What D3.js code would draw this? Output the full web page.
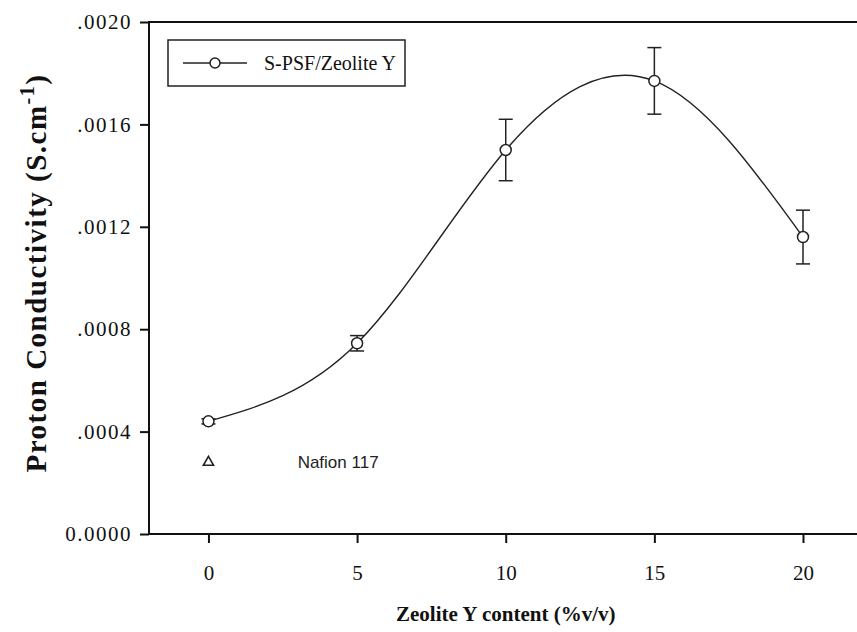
<!DOCTYPE html>
<meta charset="utf-8">
<style>
	body { margin: 0; background: #fff; }
	svg { display: block; font-family: "Liberation Serif", "Times New Roman", serif; }
</style>
<body>
<script src="https://cdn.jsdelivr.net/npm/d3@7"></script>
<script>

	// Zeolite content (%v/v) and measured conductivity
	var zeolite = [0, 5, 10, 15, 20];
	var conductivity = [0.00044, 0.000745, 0.0015, 0.00177, 0.00116];
	var errors = [0.00001, 0.00003, 0.00012, 0.00013, 0.000105];

	// Nafion 117 reference point
	var nafionX = [0];
	var nafionY = [0.00028];

	var xTicks = [0, 5, 10, 15, 20];
	var yTicks = [0, 0.0004, 0.0008, 0.0012, 0.0016, 0.0020];

	var width = 857, height = 632;
	var plotLeft = 149, plotTop = 22, plotBottom = 534;

	var data = zeolite.map(function(d, i) {
		return { x: d, y: conductivity[i], e: errors[i] };
	});

	var svg = d3.select("body")
		.append("svg")
		.attr("width", width)
		.attr("height", height);

	// x runs off the right edge of the picture, as in the scan
	var xScale = d3.scaleLinear()
		.domain([-2, 20])
		.range([plotLeft, 803]);
	var yScale = d3.scaleLinear()
		.domain([0, 0.0020])
		.range([plotBottom, plotTop]);

	// y axis
	svg.append("g")
		.attr("transform", "translate(" + plotLeft + ",0)")
		.call(d3.axisLeft(yScale)
			.tickValues(yTicks)
			.tickSize(9)
			.tickPadding(8)
			.tickFormat(function(d) { return d === 0 ? "0.0000" : d3.format(".4f")(d).replace(/^0/, ""); }))
		.call(function(g) {
			g.select(".domain").remove();
			g.selectAll("line").attr("stroke", "#111").attr("stroke-width", 2);
			g.selectAll("text").attr("font-size", "21px").attr("fill", "#111")
				.attr("letter-spacing", "1.5px")
				.attr("font-family", "Liberation Serif");
		});

	// x axis
	svg.append("g")
		.attr("transform", "translate(0," + plotBottom + ")")
		.call(d3.axisBottom(xScale)
			.tickValues(xTicks)
			.tickSize(9)
			.tickPadding(22))
		.call(function(g) {
			g.select(".domain").remove();
			g.selectAll("line").attr("stroke", "#111").attr("stroke-width", 2);
			g.selectAll("text").attr("font-size", "21px").attr("fill", "#111")
				.attr("font-family", "Liberation Serif");
		});

	// frame (left, top, bottom; no right edge visible)
	svg.append("path")
		.attr("d", "M" + width + "," + plotTop + "H" + plotLeft + "V" + plotBottom + "H" + width)
		.attr("fill", "none")
		.attr("stroke", "#111")
		.attr("stroke-width", 2);

	// fitted curve
	svg.append("path")
		.datum(data)
		.attr("fill", "none")
		.attr("stroke", "#222")
		.attr("stroke-width", 1.4)
		.attr("d", d3.line()
			.x(function(d) { return xScale(d.x); })
			.y(function(d) { return yScale(d.y); })
			.curve(d3.curveNatural));

	// error bars
	var bars = svg.append("g")
		.attr("stroke", "#222")
		.attr("stroke-width", 1.5);
	bars.selectAll("line.v")
		.data(data)
		.enter()
		.append("line")
		.attr("class", "v")
		.attr("x1", function(d) { return xScale(d.x); })
		.attr("x2", function(d) { return xScale(d.x); })
		.attr("y1", function(d) { return yScale(d.y + d.e); })
		.attr("y2", function(d) { return yScale(d.y - d.e); });
	[1, -1].forEach(function(s) {
		bars.selectAll("line.cap" + (s > 0 ? "t" : "b"))
			.data(data)
			.enter()
			.append("line")
			.attr("x1", function(d) { return xScale(d.x) - 7; })
			.attr("x2", function(d) { return xScale(d.x) + 7; })
			.attr("y1", function(d) { return yScale(d.y + s * d.e); })
			.attr("y2", function(d) { return yScale(d.y + s * d.e); });
	});

	// markers
	svg.selectAll("circle.pt")
		.data(data)
		.enter()
		.append("circle")
		.attr("class", "pt")
		.attr("cx", function(d) { return xScale(d.x); })
		.attr("cy", function(d) { return yScale(d.y); })
		.attr("r", 5.5)
		.attr("fill", "#fff")
		.attr("stroke", "#222")
		.attr("stroke-width", 1.5);

	// Nafion 117
	svg.selectAll("path.naf")
		.data(nafionX)
		.enter()
		.append("path")
		.attr("class", "naf")
		.attr("transform", function(d, i) { return "translate(" + xScale(d) + "," + yScale(nafionY[i]) + ")"; })
		.attr("d", d3.symbol().type(d3.symbolTriangle).size(45))
		.attr("fill", "none")
		.attr("stroke", "#222")
		.attr("stroke-width", 1.6);
	svg.append("text")
		.attr("x", xScale(3))
		.attr("y", yScale(nafionY[0]) + 6)
		.attr("font-size", "17px")
		.attr("font-family", "Liberation Sans, Arial, sans-serif")
		.attr("fill", "#222")
		.text("Nafion 117");

	// legend
	var legend = svg.append("g");
	legend.append("rect")
		.attr("x", 168).attr("y", 40)
		.attr("width", 237).attr("height", 46)
		.attr("fill", "#fff")
		.attr("stroke", "#222")
		.attr("stroke-width", 1.5);
	legend.append("line")
		.attr("x1", 183).attr("x2", 247)
		.attr("y1", 63).attr("y2", 63)
		.attr("stroke", "#222").attr("stroke-width", 1.5);
	legend.append("circle")
		.attr("cx", 215).attr("cy", 63).attr("r", 5)
		.attr("fill", "#fff").attr("stroke", "#222").attr("stroke-width", 1.5);
	legend.append("text")
		.attr("x", 264).attr("y", 70)
		.attr("font-size", "20px")
		.attr("fill", "#111")
		.text("S-PSF/Zeolite Y");

	// axis titles
	svg.append("text")
		.attr("x", xScale(10))
		.attr("y", 621)
		.attr("text-anchor", "middle")
		.attr("font-size", "21px")
		.attr("font-weight", "bold")
		.attr("fill", "#111")
		.text("Zeolite Y content (%v/v)");

	var yTitle = svg.append("text")
		.attr("transform", "translate(46," + 273 + ") rotate(-90)")
		.attr("text-anchor", "middle")
		.attr("font-size", "29px")
		.attr("letter-spacing", "1.5px")
		.attr("font-weight", "bold")
		.attr("fill", "#111");
	yTitle.append("tspan").text("Proton Conductivity (S.cm");
	yTitle.append("tspan").attr("dy", -12).attr("font-size", "20px").text("-1");
	yTitle.append("tspan").attr("dy", 12).text(")");

</script>
</body>
